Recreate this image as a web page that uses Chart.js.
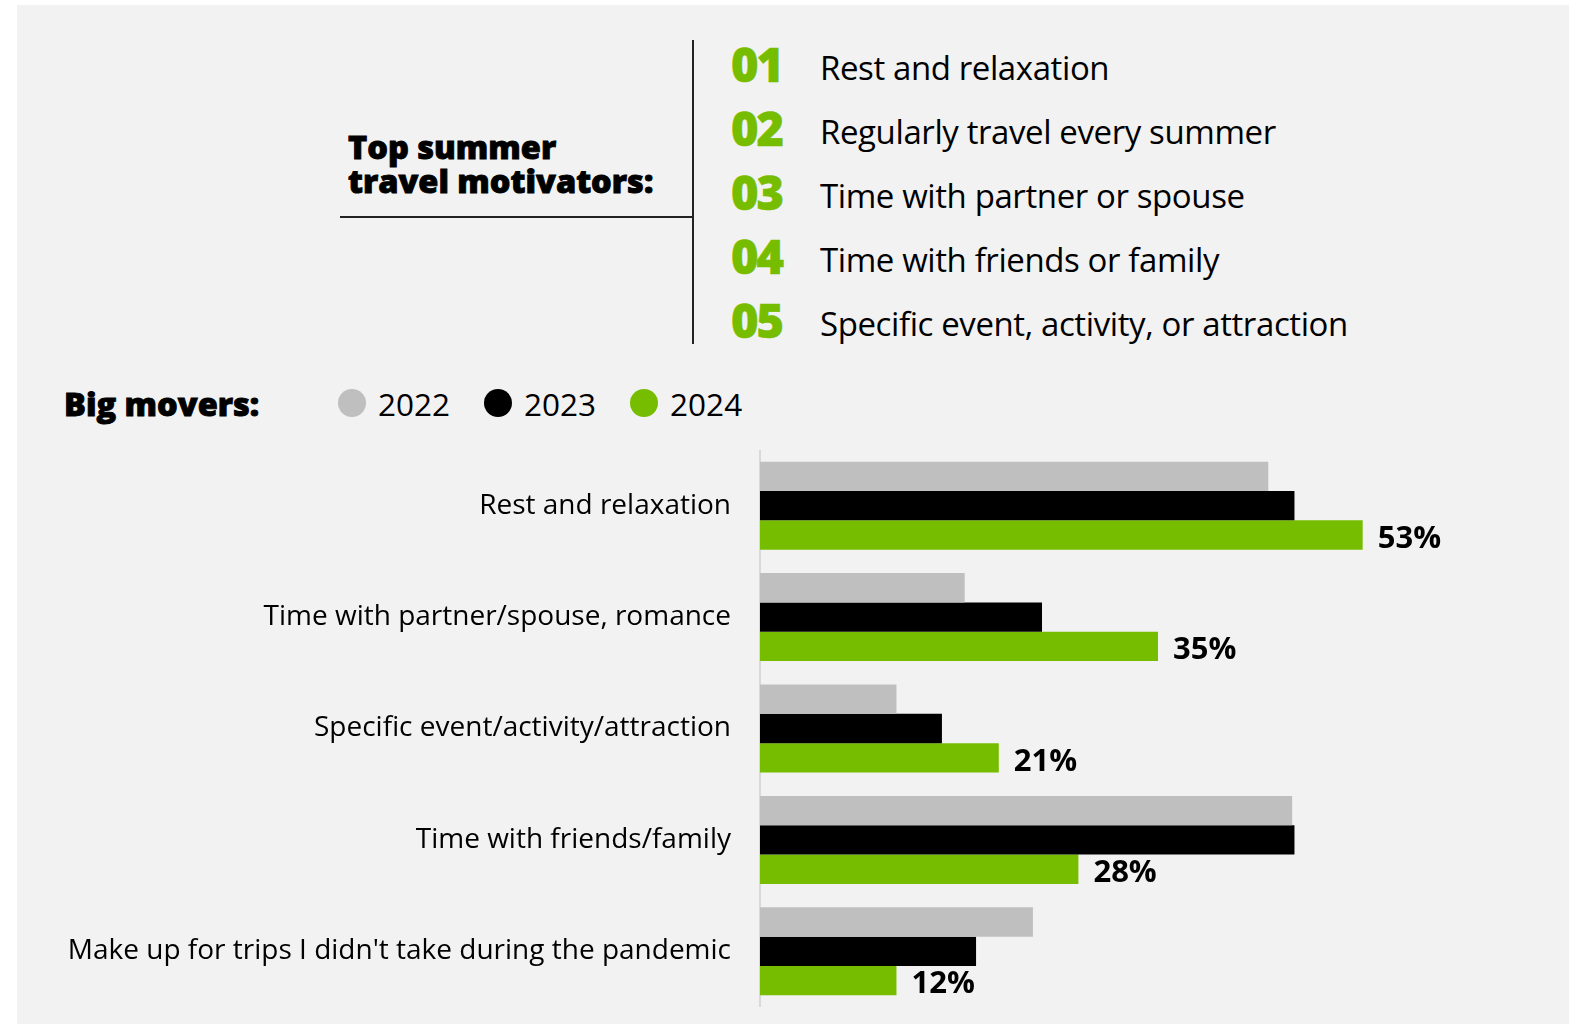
<!DOCTYPE html>
<html>
<head>
<meta charset="utf-8">
<title>Summer travel motivators</title>
<script src="https://cdn.jsdelivr.net/npm/chart.js@4.4.1/dist/chart.umd.min.js"></script>
<style>
  html, body { margin: 0; padding: 0; background: #fff; }
  body { width: 1578px; height: 1024px; position: relative; overflow: hidden; font-family: "Open Sans", sans-serif; color: #000; }
  .panel { position: absolute; left: 17px; top: 5px; width: 1552px; height: 1019px; background: #f2f2f2; }
  .abs { position: absolute; }
  /* the heavy headings get a thin stroke to read as extra bold */
  .heavy { font-weight: 800; -webkit-text-stroke: 0.9px #000; }
  .title { left: 348px; top: 130px; font-size: 32.5px; line-height: 34px; letter-spacing: 0; }
  .hline { left: 340px; top: 216px; width: 353px; height: 2px; background: #222; }
  .vline { left: 692px; top: 40px; width: 2px; height: 304px; background: #222; }
  .list { left: 731px; top: 30px; }
  .list .row { height: 63.9px; display: flex; align-items: baseline; }
  .list .num { position: relative; top: 2px; width: 89px; font-size: 47px; font-weight: 800; color: #76bd00; letter-spacing: -2px; -webkit-text-stroke: 0.6px #76bd00; }
  .list .txt { font-size: 33px; letter-spacing: -0.4px; }
  .legend { left: 64px; top: 380px; display: flex; align-items: center; height: 46px; }
  .legend .head { font-size: 32.5px; letter-spacing: 0; width: 274px; }
  .legend .item { display: flex; align-items: center; font-size: 31.5px; margin-right: 34px; }
  .legend .dot { width: 28px; height: 28px; border-radius: 50%; margin-right: 12px; }
  #chartBox { left: 17px; top: 450px; width: 1539px; height: 557px; }
</style>
</head>
<body>
<div class="panel"></div>
<div class="abs title heavy">Top summer<br>travel motivators:</div>
<div class="abs hline"></div>
<div class="abs vline"></div>
<div class="abs list" id="list"></div>
<div class="abs legend" id="legend"><div class="head heavy">Big movers:</div></div>
<div class="abs" id="chartBox"><canvas id="movers" width="1539" height="557"></canvas></div>
<script>
// ranked motivators
const ranks = ['01', '02', '03', '04', '05'];
const motivators = [
  'Rest and relaxation',
  'Regularly travel every summer',
  'Time with partner or spouse',
  'Time with friends or family',
  'Specific event, activity, or attraction'
];

// big movers by year (% of respondents)
const categories = [
  'Rest and relaxation',
  'Time with partner/spouse, romance',
  'Specific event/activity/attraction',
  'Time with friends/family',
  "Make up for trips I didn't take during the pandemic"
];
const years = ['2022', '2023', '2024'];
const values2022 = [44.7, 18, 12, 46.8, 24];
const values2023 = [47, 24.8, 16, 47, 19];
const values2024 = [53, 35, 21, 28, 12];

const yearColors = ['#bfbfbf', '#000000', '#76bd00'];

const list = document.getElementById('list');
ranks.forEach((r, i) => {
  const row = document.createElement('div');
  row.className = 'row';
  row.innerHTML = '<span class="num">' + r + '</span><span class="txt">' + motivators[i] + '</span>';
  list.appendChild(row);
});

const legend = document.getElementById('legend');
years.forEach((y, i) => {
  const item = document.createElement('div');
  item.className = 'item';
  item.innerHTML = '<span class="dot" style="background:' + yearColors[i] + '"></span>' + y;
  legend.appendChild(item);
});

// writes the 2024 value after each green bar
const valueLabels = {
  id: 'valueLabels',
  afterDatasetsDraw(chart) {
    const ctx = chart.ctx;
    const meta = chart.getDatasetMeta(2);
    ctx.save();
    ctx.font = 'bold 31px "Open Sans"';
    ctx.fillStyle = '#000';
    ctx.textAlign = 'left';
    ctx.textBaseline = 'middle';
    meta.data.forEach((bar, i) => {
      ctx.fillText(values2024[i] + '%', bar.x + 15, bar.y + 4);
    });
    ctx.restore();
  }
};

const seriesValues = [values2022, values2023, values2024];

new Chart(document.getElementById('movers'), {
  type: 'bar',
  data: {
    labels: categories,
    datasets: years.map((y, i) => ({
      label: y,
      data: seriesValues[i],
      backgroundColor: yearColors[i],
      borderWidth: 0,
      barPercentage: 1.0,
      categoryPercentage: 0.79
    }))
  },
  options: {
    indexAxis: 'y',
    responsive: false,
    animation: false,
    layout: { padding: 0 },
    plugins: {
      legend: { display: false },
      tooltip: { enabled: false }
    },
    scales: {
      x: { display: false, min: 0, max: 70 },
      y: {
        // fixed label column, and no extra room above/below the bars
        afterFit(scale) {
          scale.width = 743;
          scale.paddingTop = 0;
          scale.paddingBottom = 0;
        },
        grid: { display: false, drawTicks: false },
        border: { display: true, color: '#d9d9d9', width: 2 },
        ticks: {
          padding: 29,
          color: '#000',
          font: { family: 'Open Sans', size: 28 }
        }
      }
    }
  },
  plugins: [valueLabels]
});
</script>
</body>
</html>
